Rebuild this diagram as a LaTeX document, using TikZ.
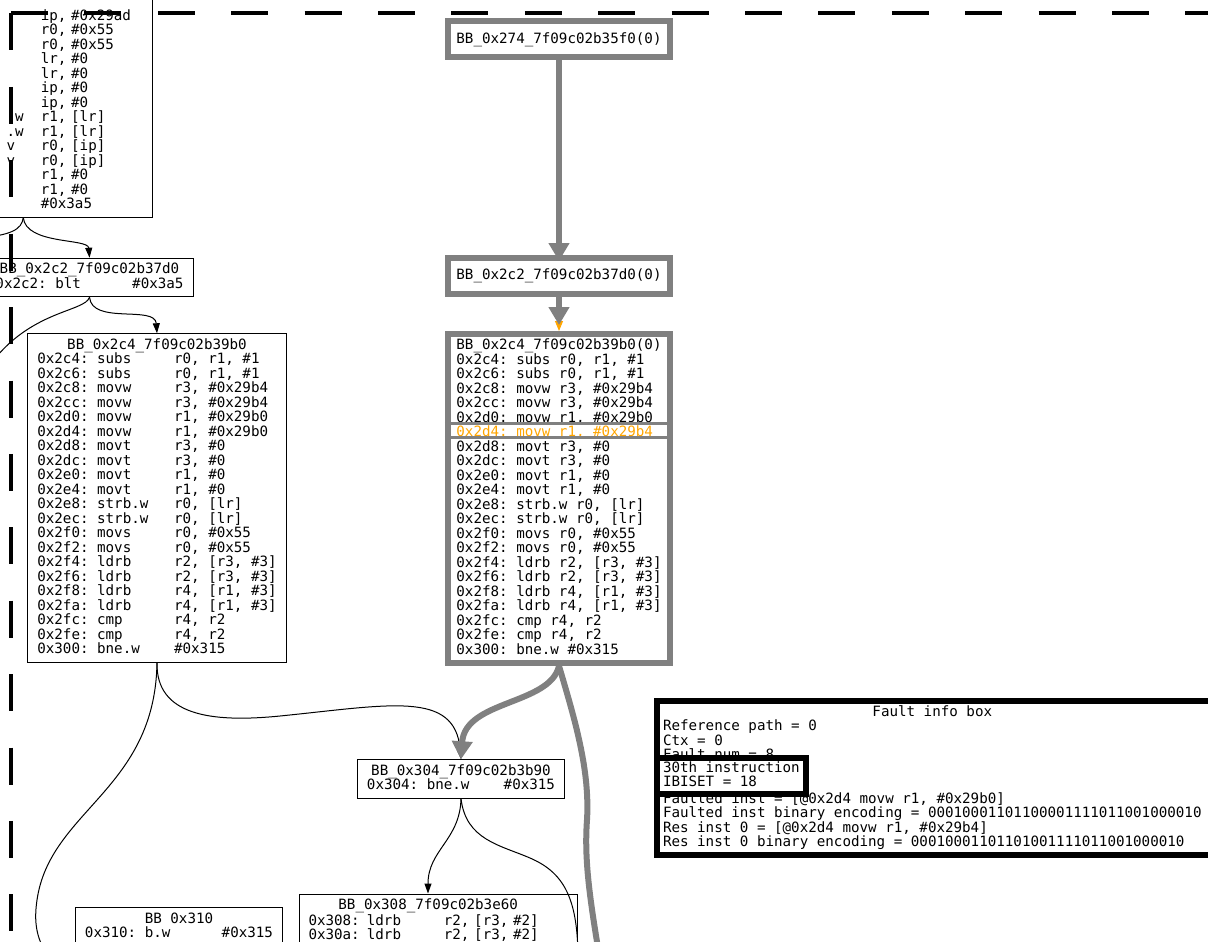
\documentclass[tikz,border=0pt]{standalone}
\usepackage{fontspec}
\setmonofont{DejaVu Sans Mono}
\usetikzlibrary{arrows.meta}
\definecolor{pathgray}{HTML}{808080}
\definecolor{faultorange}{HTML}{FFA500}
% one character of the mono font at 14.2pt
\newlength{\chw}
\setlength{\chw}{8.549pt}
\newcommand{\bbfont}{\ttfamily\fontsize{14.2}{14.5}\selectfont
  \spaceskip=\chw\relax\xspaceskip=\chw\relax}
\newcommand{\mnem}[1]{\makebox[9\chw][l]{#1}}
\newcommand{\hdrline}[2]{\makebox[#1\chw][c]{#2}}
% operand column of the clipped block, with the visible end of its mnemonic
\newcommand{\tlrow}[3]{\hspace*{16\chw}\llap{#1\hspace*{#2\chw}}#3}
\newcommand{\lnstrut}{\rule[-3.7pt]{0pt}{14.5pt}}

\begin{document}
\begin{tikzpicture}[
  x=1pt, y=-1pt,
  font=\bbfont,
  bb/.style={rectangle, draw=black, line width=1pt, align=left,
             inner xsep=9.5pt, inner ysep=4.75pt,
             execute at begin node=\lnstrut, execute at end node=\lnstrut},
  bbpath/.style={rectangle, draw=pathgray, line width=6pt, align=left,
                 inner xsep=8.5pt, inner ysep=5pt, minimum height=36pt,
                 execute at begin node=\lnstrut, execute at end node=\lnstrut},
  infobox/.style={rectangle, draw=black, line width=6pt, align=left,
                  inner xsep=6pt, inner ysep=4.5pt,
                  execute at begin node=\lnstrut, execute at end node=\lnstrut},
  flow/.style={draw=black, line width=1pt, -{Triangle[length=10pt, width=7pt]}},
  flowline/.style={draw=black, line width=1pt},
  hot/.style={draw=pathgray, line width=6pt, -{Triangle[length=18pt, width=20pt]}},
  hotline/.style={draw=pathgray, line width=6pt},
  faultflow/.style={draw=faultorange, line width=1pt, -{Triangle[length=10pt, width=8pt]}},
  rowline/.style={draw=pathgray, line width=3pt},
  cluster/.style={draw=black, line width=4pt, dash pattern=on 37pt off 36.4pt}
]
\path[use as bounding box, clip] (0,0) rectangle (1208,942);

% Cluster border (only its top and left sides are in view).
\coordinate (corner)   at (11,13.5);
\coordinate (clusterE) at (1300,13.5);
\coordinate (clusterS) at (11,1000);
\draw[cluster] (corner) -- (clusterE);
\draw[cluster] (corner) -- (clusterS);

% Left column: all blocks.
\node[bb, text width=238.5pt, anchor=south east] (tl) at (152.5,217.5)
  {\rule{0pt}{40pt}\tlrow{}{0}{ip, \#0x29ad}\\
   \tlrow{}{0}{r0, \#0x55}\\
   \tlrow{}{0}{r0, \#0x55}\\
   \tlrow{}{0}{lr, \#0}\\
   \tlrow{}{0}{lr, \#0}\\
   \tlrow{}{0}{ip, \#0}\\
   \tlrow{}{0}{ip, \#0}\\
   \tlrow{.w}{2}{r1, [lr]}\\
   \tlrow{.w}{2}{r1, [lr]}\\
   \tlrow{v}{3}{r0, [ip]}\\
   \tlrow{v}{3}{r0, [ip]}\\
   \tlrow{}{0}{r1, \#0}\\
   \tlrow{}{0}{r1, \#0}\\
   \tlrow{}{0}{\#0x3a5}};

\node[bb] (bb2c2l) at (89.5,277.5)
  {\hdrline{22}{BB\_0x2c2\_7f09c02b37d0}\\
   0x2c2: \mnem{blt}\#0x3a5};

\node[bb] (bb2c4l) at (157,498)
  {\hdrline{28}{BB\_0x2c4\_7f09c02b39b0}\\
   0x2c4: \mnem{subs}r0, r1, \#1\\
   0x2c6: \mnem{subs}r0, r1, \#1\\
   0x2c8: \mnem{movw}r3, \#0x29b4\\
   0x2cc: \mnem{movw}r3, \#0x29b4\\
   0x2d0: \mnem{movw}r1, \#0x29b0\\
   0x2d4: \mnem{movw}r1, \#0x29b0\\
   0x2d8: \mnem{movt}r3, \#0\\
   0x2dc: \mnem{movt}r3, \#0\\
   0x2e0: \mnem{movt}r1, \#0\\
   0x2e4: \mnem{movt}r1, \#0\\
   0x2e8: \mnem{strb.w}r0, [lr]\\
   0x2ec: \mnem{strb.w}r0, [lr]\\
   0x2f0: \mnem{movs}r0, \#0x55\\
   0x2f2: \mnem{movs}r0, \#0x55\\
   0x2f4: \mnem{ldrb}r2, [r3, \#3]\\
   0x2f6: \mnem{ldrb}r2, [r3, \#3]\\
   0x2f8: \mnem{ldrb}r4, [r1, \#3]\\
   0x2fa: \mnem{ldrb}r4, [r1, \#3]\\
   0x2fc: \mnem{cmp}r4, r2\\
   0x2fe: \mnem{cmp}r4, r2\\
   0x300: \mnem{bne.w}\#0x315};

\node[bb] (bb304) at (461,779)
  {\hdrline{22}{BB\_0x304\_7f09c02b3b90}\\
   0x304: \mnem{bne.w}\#0x315};

\node[bb, text width=259pt, anchor=north west] (bb308) at (298.5,893.5)
  {\hdrline{28}{BB\_0x308\_7f09c02b3e60}\\
   0x308: \mnem{ldrb}r2, [r3, \#2]\\
   0x30a: \mnem{ldrb}r2, [r3, \#2]};

\node[bb] (bb310) at (179,927)
  {\hdrline{22}{BB 0x310}\\
   0x310: \mnem{b.w}\#0x315};

% Reference path (gray, thick).
\node[bbpath] (bb274) at (559,39.5) {BB\_0x274\_7f09c02b35f0(0)};
\node[bbpath] (bb2c2r) at (559,276) {BB\_0x2c2\_7f09c02b37d0(0)};
\node[bbpath] (bb2c4r) at (559,498.5)
  {BB\_0x2c4\_7f09c02b39b0(0)\\
   0x2c4: subs r0, r1, \#1\\
   0x2c6: subs r0, r1, \#1\\
   0x2c8: movw r3, \#0x29b4\\
   0x2cc: movw r3, \#0x29b4\\
   0x2d0: movw r1, \#0x29b0\\
   \textcolor{faultorange}{0x2d4: movw r1, \#0x29b4}\\
   0x2d8: movt r3, \#0\\
   0x2dc: movt r3, \#0\\
   0x2e0: movt r1, \#0\\
   0x2e4: movt r1, \#0\\
   0x2e8: strb.w r0, [lr]\\
   0x2ec: strb.w r0, [lr]\\
   0x2f0: movs r0, \#0x55\\
   0x2f2: movs r0, \#0x55\\
   0x2f4: ldrb r2, [r3, \#3]\\
   0x2f6: ldrb r2, [r3, \#3]\\
   0x2f8: ldrb r4, [r1, \#3]\\
   0x2fa: ldrb r4, [r1, \#3]\\
   0x2fc: cmp r4, r2\\
   0x2fe: cmp r4, r2\\
   0x300: bne.w \#0x315};
\draw[rowline] ([yshift=-92.5pt]bb2c4r.north west) -- ([yshift=-92.5pt]bb2c4r.north east);
\draw[rowline] ([yshift=-106.5pt]bb2c4r.north west) -- ([yshift=-106.5pt]bb2c4r.north east);

% Fault info box, with the selected fault laid over it.
\node[infobox, anchor=north west] (fault) at (654,698)
  {\hdrline{63}{Fault info box}\hspace*{8pt}\\
   Reference path = 0\\
   Ctx = 0\\
   Fault num = 8\\
   \mbox{}\\
   \mbox{}\\
   Faulted inst = [@0x2d4 movw r1, \#0x29b0]\\
   Faulted inst binary encoding = 00010001101100001111011001000010\\
   Res inst 0 = [@0x2d4 movw r1, \#0x29b4]\\
   Res inst 0 binary encoding = 00010001101101001111011001000010};
\node[infobox, fill=white, inner ysep=3.5pt, anchor=north west] (faultsel) at (654,755)
  {30th instruction\\
   IBISET = 18};

% Free ends of edges that leave the view.
\coordinate (tlout)   at (-20,238);
\coordinate (c2out)   at (-10,365);
\coordinate (c4out)   at (55,965);
\coordinate (b304out) at (578,960);
\coordinate (hotout)  at (600,960);

% Thin edges.
\draw[flow] (tl.south) .. controls (26,245) and (88,238) .. (bb2c2l.north);
\draw[flowline] (tl.south) .. controls (22,230) and (10,235) .. (tlout);
\draw[flow] (bb2c2l.south) .. controls (92,325) and (155,305) .. (bb2c4l.north);
\draw[flowline] (bb2c2l.south) .. controls (85,312) and (30,310) .. (c2out);
\draw[flow] (bb2c4l.south) .. controls (156,715) and (210,723) .. (280,716)
  .. controls (390,705) and (455,690) .. (bb304.north);
\draw[flowline] (bb2c4l.south) .. controls (155,790) and (50,810) .. (37,900)
  .. controls (33,927) and (38,945) .. (c4out);
\draw[flow] (bb304.south) .. controls (460,840) and (428,850) .. ([xshift=-10pt]bb308.north);
\draw[flowline] (bb304.south) .. controls (466,840) and (500,845) .. (530,858)
  .. controls (565,873) and (578,900) .. (b304out);

% Thick edges along the reference path.
\draw[hot, shorten >=-6pt] (bb274) -- (bb2c2r);
\draw[faultflow] (bb2c2r) -- (bb2c4r);
\draw[hot, shorten >=6pt] (bb2c2r) -- (bb2c4r);
\draw[hot] (bb2c4r.south) .. controls (550,705) and (465,700) .. (bb304.north);
\draw[hotline] (bb2c4r.south) .. controls (575,720) and (590,770) .. (587,820)
  .. controls (584,860) and (590,900) .. (hotout);

\end{tikzpicture}
\end{document}
